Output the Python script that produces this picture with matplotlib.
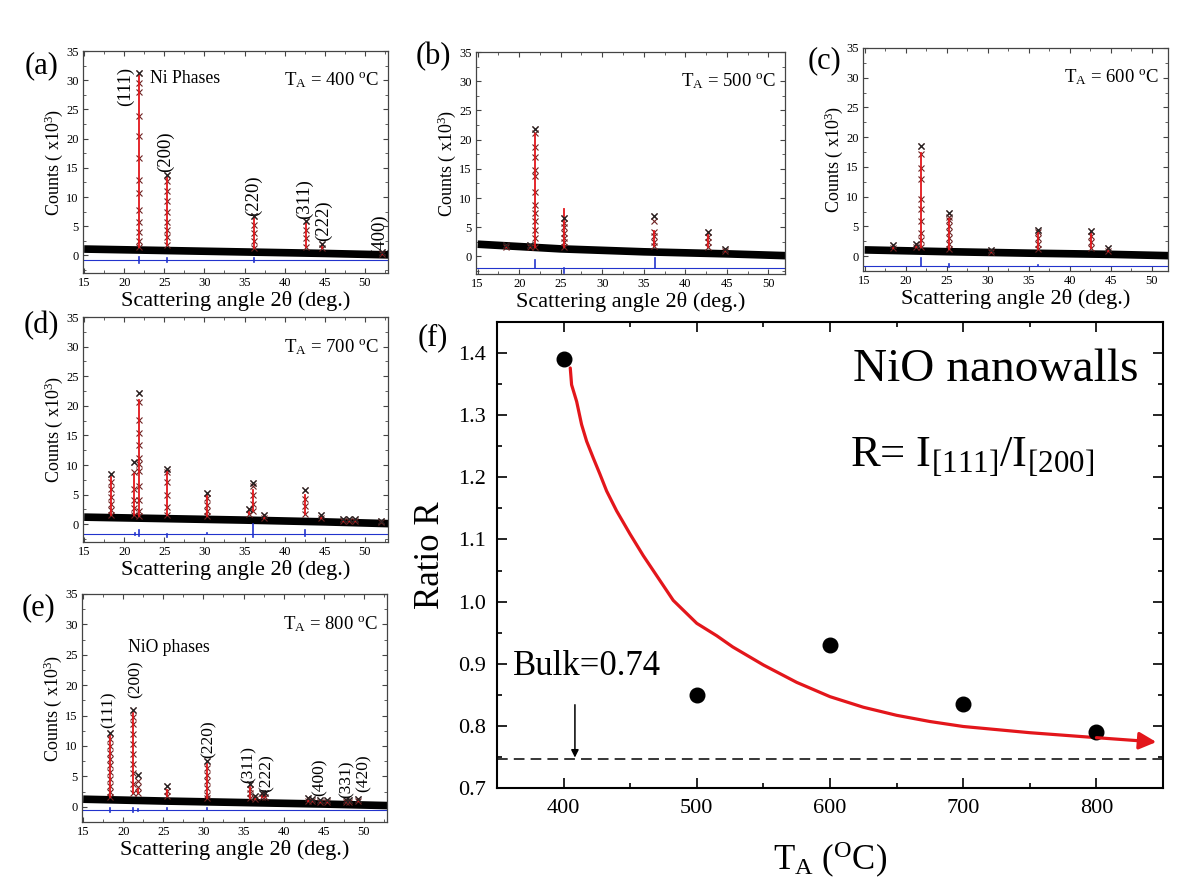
import matplotlib
matplotlib.use('Agg')
import matplotlib.pyplot as plt
from matplotlib.ticker import MultipleLocator

plt.rcParams['font.family'] = ['Liberation Serif', 'DejaVu Serif']
plt.rcParams['mathtext.fontset'] = 'custom'
plt.rcParams['mathtext.rm'] = 'Liberation Serif'
plt.rcParams['mathtext.it'] = 'Liberation Serif:italic'
plt.rcParams['mathtext.bf'] = 'Liberation Serif:bold'

# ---------------- XRD data ----------------
bg_x = [15, 25, 35, 45, 53]

# 400 C
pos_400 = [21.85, 25.3, 36.2, 42.65, 44.65, 52.1]
red_400 = [31.0, 13.5, 6.5, 5.8, 1.9, 0.6]
obs_400 = [[31.2, 29.6, 27.9, 23.8, 20.5, 16.7, 13.0, 10.7, 7.8, 5.8, 4.1, 2.4, 1.5],
           [13.8, 12.7, 11.0, 9.3, 7.5, 5.8, 4.4, 3.2, 1.8],
           [6.7, 5.3, 3.9, 2.4, 1.3],
           [5.9, 4.4, 3.0, 1.5],
           [1.9, 1.2],
           [0.6, 0.3]]
bg_400 = [1.1, 0.85, 0.6, 0.35, 0.1]
diff_400 = -0.75
spikes_400 = [(21.85, -0.5, 0.5), (25.3, -0.4, 0.4), (36.2, -0.3, 0.3)]
hkl_400 = ['(111)', '(200)', '(220)', '(311)', '(222)', '(400)']
hkl_x_400 = [20.1, 25.2, 36.1, 42.5, 44.8, 51.8]
hkl_y_400 = [29.0, 17.8, 10.3, 9.7, 6.0, 3.5]

# 500 C
pos_500 = [18.4, 21.3, 21.9, 25.35, 36.2, 42.7, 44.75]
red_500 = [1.9, 1.9, 21.0, 8.2, 4.3, 4.2, 1.2]
obs_500 = [[1.9, 1.6], [1.9, 1.6],
           [21.9, 21.1, 18.8, 17.1, 14.8, 13.7, 11.1, 8.8, 7.4, 6.0, 4.6, 3.1, 1.7],
           [6.6, 5.8, 5.0, 4.0, 3.2, 2.5, 1.7],
           [6.9, 6.0, 4.2, 3.5, 2.5, 1.8],
           [4.2, 3.3, 2.5, 1.6],
           [1.2, 0.9]]
bg_500 = [2.1, 1.3, 0.8, 0.45, 0.1]
diff_500 = -2.0
spikes_500 = [(21.9, 0.0, 1.4), (25.35, -0.9, 0.0), (36.3, 0.0, 1.7)]

# 600 C
pos_600 = [18.5, 21.3, 21.85, 25.35, 30.4, 36.2, 42.65, 44.7]
red_600 = [1.7, 2.0, 17.3, 6.2, 1.0, 4.0, 4.0, 1.3]
obs_600 = [[1.9, 1.4], [2.1, 1.5],
           [18.6, 17.2, 14.8, 13.0, 9.6, 7.9, 5.9, 3.9, 2.7, 1.6],
           [7.3, 6.6, 6.0, 5.0, 4.0, 3.0, 2.0, 1.2],
           [1.0, 0.7],
           [4.4, 4.0, 3.0, 2.0, 1.2],
           [4.3, 3.4, 2.3, 1.3],
           [1.4, 0.9]]
bg_600 = [1.05, 0.75, 0.5, 0.3, 0.05]
diff_600 = -1.6
spikes_600 = [(21.85, 0.0, 1.3), (25.35, -0.3, 0.2), (36.2, -0.1, 0.1)]

# 700 C
pos_700 = [18.4, 21.25, 21.85, 25.3, 30.3, 35.6, 36.1, 37.4, 42.55, 44.6, 47.3, 48.0, 48.8, 52.0]
red_700 = [8.0, 8.5, 21.0, 9.0, 5.0, 2.5, 5.8, 1.5, 5.0, 1.4, 0.8, 0.8, 0.8, 0.5]
obs_700 = [[8.4, 7.2, 6.0, 4.6, 3.5, 2.4, 1.6],
           [10.5, 8.8, 6.0, 4.1, 2.7, 1.6],
           [22.1, 20.7, 17.6, 15.4, 13.4, 11.2, 10.1, 9.0, 6.4, 4.1, 2.2, 1.4],
           [9.4, 8.9, 7.2, 4.9, 2.9, 1.6],
           [5.3, 4.4, 3.3, 2.2, 1.4],
           [2.6, 1.8],
           [7.0, 6.4, 5.0, 3.5, 2.2],
           [1.6, 1.1],
           [5.7, 4.3, 3.0, 1.8],
           [1.5, 1.0], [0.9, 0.6], [0.9, 0.6], [0.9, 0.6], [0.6, 0.3]]
bg_700 = [1.2, 0.95, 0.7, 0.4, 0.1]
diff_700 = -1.7
spikes_700 = [(21.3, -0.2, 0.2), (21.85, -0.3, 0.8), (25.3, -0.5, 0.0),
              (30.3, 0.0, 0.2), (36.1, -0.5, 1.8), (42.6, -0.3, 0.7)]

# 800 C
pos_800 = [18.35, 21.25, 21.85, 25.4, 30.4, 35.85, 36.4, 37.3, 37.7,
           43.0, 43.6, 44.6, 45.4, 47.8, 48.2, 49.3]
red_800 = [11.8, 15.5, 3.0, 2.8, 7.0, 3.2, 1.7, 2.2, 2.2,
           1.4, 1.2, 1.0, 1.0, 1.2, 1.0, 1.3]
obs_800 = [[12.2, 11.1, 10.0, 8.9, 7.9, 6.8, 5.7, 4.6, 3.5, 2.4, 1.6],
           [15.9, 14.8, 13.7, 12.0, 10.4, 8.7, 7.1, 5.5, 3.8, 2.2],
           [5.3, 4.3, 3.2, 2.2],
           [3.4, 2.6, 1.8],
           [7.5, 6.4, 5.3, 4.2, 3.1, 2.0, 1.4],
           [3.7, 3.0, 2.2, 1.5],
           [1.8, 1.3], [2.3, 1.6], [2.3, 1.6],
           [1.4, 1.0], [1.3, 0.9], [1.1, 0.8], [1.1, 0.8],
           [1.2, 0.8], [1.1, 0.8], [1.3, 0.9]]
bg_800 = [1.25, 0.95, 0.7, 0.45, 0.2]
diff_800 = -0.5
spikes_800 = [(18.35, -0.3, 0.3), (21.25, -0.4, 0.3), (21.85, -0.2, 0.2),
              (25.4, 0.0, 0.3), (30.4, 0.0, 0.3)]
hkl_800 = ['(111)', '(200)', '(220)', '(311)', '(222)', '(400)', '(331)', '(420)']
hkl_x_800 = [18.2, 21.5, 30.6, 35.7, 37.9, 44.5, 47.9, 50.0]
hkl_y_800 = [15.9, 20.9, 11.2, 7.0, 5.6, 4.8, 4.6, 5.6]

# ---------------- ratio panel data ----------------
temps = [400, 500, 600, 700, 800]
ratio = [1.39, 0.85, 0.93, 0.835, 0.79]
fit_t = [405, 406, 409.8, 413.5, 417.3, 422.3, 427.3, 432.3, 439.8, 449.8, 459.8,
         472.3, 482.3, 500, 515, 527, 550, 575, 600, 625, 650, 675, 700, 750, 800, 845]
fit_r = [1.376, 1.349, 1.322, 1.285, 1.258, 1.231, 1.205, 1.178, 1.146, 1.109, 1.074,
         1.034, 1.002, 0.965, 0.945, 0.927, 0.898, 0.870, 0.847, 0.830, 0.817, 0.807,
         0.799, 0.789, 0.781, 0.774]
bulk = 0.747

W, H = 1200, 888
RED = '#e3161b'
BLUE = '#2233cc'


def rect(l, t, r, b):
    return [l / W, 1 - b / H, (r - l) / W, (b - t) / H]


def xrd_panel(ax, pos, red, obs, bg, diff, spikes, xlim, ylim, temp):
    ax.plot(bg_x, bg, color='black', lw=5.5, solid_capstyle='butt', zorder=2)
    ax.plot(xlim, [diff, diff], color=BLUE, lw=0.8, zorder=2)
    for p, lo, hi in spikes:
        ax.plot([p, p], [diff + lo, diff + hi], color=BLUE, lw=1.2, zorder=2)
    for p, r, o in zip(pos, red, obs):
        ax.plot([p] * len(o), o, ls='none', marker='x', ms=4.3, mew=0.8,
                color='#6e2222', zorder=3)
        ax.plot([p, p], [min(o), r], color=RED, lw=1.3, zorder=4)
        ax.plot(p, o[0], ls='none', marker='x', ms=4.5, mew=0.9, color='#222222', zorder=5)
    ax.set_xlim(*xlim)
    ax.set_ylim(*ylim)
    ax.xaxis.set_major_locator(MultipleLocator(5))
    ax.xaxis.set_minor_locator(MultipleLocator(2.5))
    ax.yaxis.set_major_locator(MultipleLocator(5))
    ax.yaxis.set_minor_locator(MultipleLocator(2.5))
    ax.tick_params(which='both', direction='in', top=True, right=True,
                   labelsize=9, pad=3, color='#444444')
    ax.tick_params(which='major', length=3.5, width=0.8)
    ax.tick_params(which='minor', length=2, width=0.6)
    for s in ax.spines.values():
        s.set_color('#444444')
        s.set_linewidth(0.9)
    ax.set_xlabel('Scattering angle 2θ (deg.)', fontsize=16, labelpad=1)
    ax.set_ylabel(r'Counts ( x10$^\mathregular{3}$)', fontsize=13, labelpad=1)
    ax.text(0.97, 0.845, r'T$_\mathregular{A}$ = %d $^\mathregular{o}$C' % temp,
            transform=ax.transAxes, ha='right', va='baseline', fontsize=13.5)


fig = plt.figure(figsize=(12, 8.88), dpi=100)

ax_a = fig.add_axes(rect(83, 51, 388, 273))
xrd_panel(ax_a, pos_400, red_400, obs_400, bg_400, diff_400, spikes_400,
          (14.85, 52.9), (-3, 35), 400)
for t, x, y in zip(hkl_400, hkl_x_400, hkl_y_400):
    ax_a.text(x, y, t, rotation=90, ha='center', va='center', fontsize=13.5)
ax_a.text(23.2, 29.5, 'Ni Phases', fontsize=12.7, va='baseline')

ax_b = fig.add_axes(rect(476, 52, 785, 274))
xrd_panel(ax_b, pos_500, red_500, obs_500, bg_500, diff_500, spikes_500,
          (14.8, 52.0), (-3, 35), 500)

ax_c = fig.add_axes(rect(863, 48, 1168, 271))
xrd_panel(ax_c, pos_600, red_600, obs_600, bg_600, diff_600, spikes_600,
          (14.8, 52.0), (-2.5, 35), 600)

ax_d = fig.add_axes(rect(83, 317, 388, 542))
xrd_panel(ax_d, pos_700, red_700, obs_700, bg_700, diff_700, spikes_700,
          (14.85, 52.9), (-3, 35), 700)

ax_e = fig.add_axes(rect(82, 594, 387, 822))
xrd_panel(ax_e, pos_800, red_800, obs_800, bg_800, diff_800, spikes_800,
          (14.85, 52.9), (-2.5, 35), 800)
for t, x, y in zip(hkl_800, hkl_x_800, hkl_y_800):
    ax_e.text(x, y, t, rotation=90, ha='center', va='center', fontsize=12.5)
ax_e.text(20.6, 25.4, 'NiO phases', fontsize=12.7, va='baseline')

# ---------------- panel (f) ----------------
ax_f = fig.add_axes(rect(497, 322, 1163, 788))
ax_f.plot([350, 850], [bulk, bulk], color='black', lw=1.1, dashes=(7, 4))
ax_f.plot(fit_t[:-1], fit_r[:-1], color=RED, lw=2.3, solid_capstyle='round',
          solid_joinstyle='round')
ax_f.annotate('', xy=(fit_t[-1], fit_r[-1]), xytext=(fit_t[-2], fit_r[-2]),
              arrowprops=dict(arrowstyle='-|>', color=RED, lw=2.3,
                              mutation_scale=26, shrinkA=0, shrinkB=0))
ax_f.plot(temps, ratio, ls='none', marker='o', ms=10.5, color='black')
ax_f.annotate('', xy=(408.5, bulk + 0.002), xytext=(408.5, 0.834),
              arrowprops=dict(arrowstyle='-|>', color='black', lw=1.1,
                              mutation_scale=11, shrinkA=0, shrinkB=0))
ax_f.text(362, 0.882, 'Bulk=0.74', fontsize=25, va='baseline')
ax_f.text(617, 1.355, 'NiO nanowalls', fontsize=34, va='baseline')
ax_f.text(615, 1.218, r'R= I$_\mathregular{[111]}$/I$_\mathregular{[200]}$',
          fontsize=32, va='baseline')
ax_f.set_xlim(350, 850)
ax_f.set_ylim(0.7, 1.45)
ax_f.xaxis.set_major_locator(MultipleLocator(100))
ax_f.xaxis.set_minor_locator(MultipleLocator(50))
ax_f.yaxis.set_major_locator(MultipleLocator(0.1))
ax_f.yaxis.set_minor_locator(MultipleLocator(0.05))
ax_f.tick_params(which='both', direction='in', top=True, right=True,
                 labelsize=16, width=1.2)
ax_f.tick_params(which='major', length=7, pad=8)
ax_f.tick_params(which='minor', length=3.5)
for s in ax_f.spines.values():
    s.set_linewidth(1.5)
ax_f.set_xlabel(r'T$_\mathregular{A}$ ($^\mathregular{O}$C)', fontsize=25, labelpad=16)
ax_f.set_ylabel('Ratio R', fontsize=25, labelpad=8)

# panel letters
for lab, x, y in [('(a)', 25, 66), ('(b)', 416, 57), ('(c)', 808, 61),
                  ('(d)', 24, 326), ('(e)', 22, 608), ('(f)', 418, 338)]:
    fig.text(x / W, 1 - y / H, lab, fontsize=22, ha='left', va='center')

fig.savefig('out.png', dpi=100)
